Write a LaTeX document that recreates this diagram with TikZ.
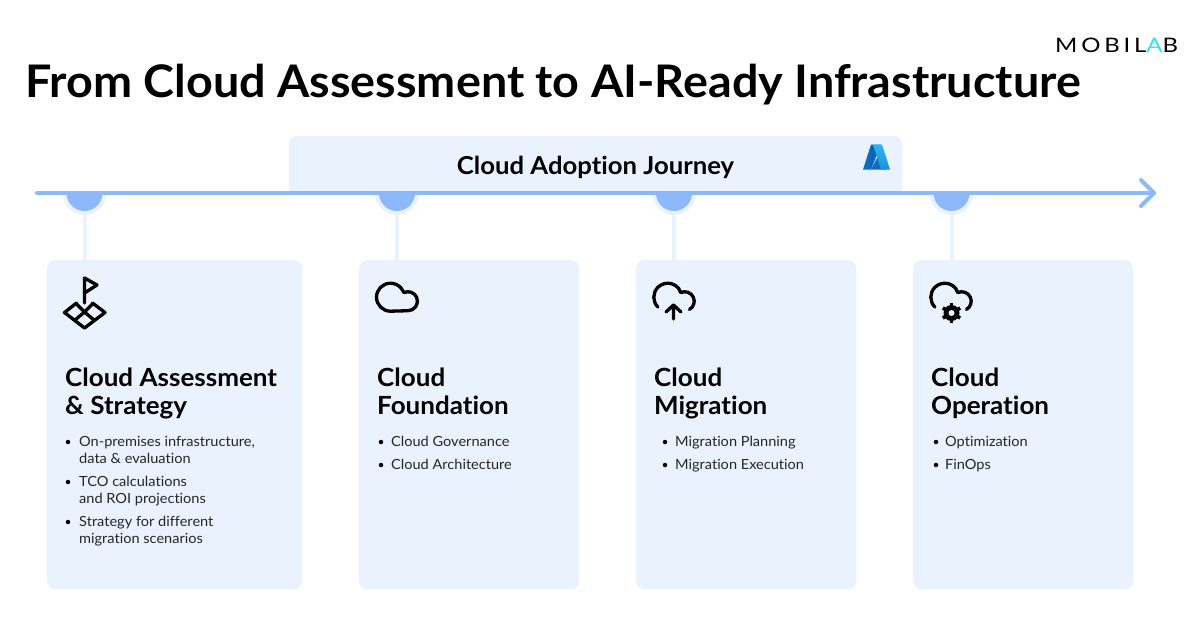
\documentclass[tikz,border=0pt]{standalone}
\usepackage{fontspec}
\setmainfont[FakeStretch=1.04,Ligatures=NoCommon]{Lato}
\newfontfamily\logofont[LetterSpace=19,FakeStretch=1.2]{Lato}
\usepackage{xcolor}
\usetikzlibrary{arrows, arrows.meta}
\definecolor{cardblue}{HTML}{EAF2FE}
\definecolor{lineblue}{HTML}{8DB8FB}
\definecolor{logocyan}{HTML}{2EE6E6}
\definecolor{azuredark}{HTML}{0B5DB0}
\definecolor{azuremid}{HTML}{0F6CC0}
\definecolor{azurelight}{HTML}{2CB8F0}
\definecolor{azurelow}{HTML}{1E8FDC}
\tikzset{
  card/.style={fill=cardblue,rounded corners=8pt,inner sep=0pt,anchor=north west},
  stem/.style={cardblue,line width=4pt},
  icon/.style={black,line width=3.3pt,line cap=round,line join=round},
  heading/.style={inner sep=0pt,anchor=base west,align=left,font=\fontsize{25}{28}\selectfont\bfseries},
  item/.style={inner sep=0pt,anchor=base west,align=left,font=\fontsize{14}{17}\selectfont,text=black!85},
  itemdot/.style={circle,fill=black,inner sep=0pt,minimum size=4.5pt}
}
\begin{document}
\begin{tikzpicture}[x=1pt,y=-1pt]
\useasboundingbox (0,0) rectangle (1200,638);
\fill[white] (0,0) rectangle (1200,638);
\node[inner sep=0pt,anchor=base west,font=\fontsize{44.9}{50}\selectfont\bfseries] (title) at (25,97) {From Cloud Assessment to AI-Ready Infrastructure};
\node[inner sep=0pt,anchor=base west,font=\fontsize{20}{22}\selectfont\logofont] (logo) at (1055,52) {MOBIL\textcolor{logocyan}{A}B};
% top band
\fill[cardblue] (289,193) -- (289,144) arc[start angle=180,end angle=90,radius=8pt] -- (894,136) arc[start angle=90,end angle=0,radius=8pt] -- (902,193) -- cycle;
\node[inner sep=0pt,anchor=base,font=\fontsize{24.7}{28}\selectfont\bfseries] (band) at (595.5,174) {Cloud Adoption Journey};
% azure logo
\shade[left color=azuremid,right color=azuredark] (871,144.5) -- (881,144.5) -- (871,169.5) -- (863,169.5) -- cycle;
\fill[azuremid] (878,156) -- (871,169.5) -- (886,169.5) -- cycle;
\shade[top color=azurelight,bottom color=azurelow] (873,144.5) -- (882,144.5) -- (890,169.5) -- (881,169.5) -- cycle;
% cards
\node[card,minimum width=255pt,minimum height=329pt] (card1) at (47,260) {};
\node[card,minimum width=220pt,minimum height=329pt] (card2) at (359,260) {};
\node[card,minimum width=220pt,minimum height=329pt] (card3) at (636,260) {};
\node[card,minimum width=220pt,minimum height=329pt] (card4) at (913,260) {};
% dots on the line
\coordinate (dot1) at (84.5,193);
\coordinate (dot2) at (397,193);
\coordinate (dot3) at (674,193);
\coordinate (dot4) at (951.5,193);
\foreach \n in {1,2,3,4}{
  \draw[stem] (dot\n) -- (dot\n |- card\n.north);
  \fill[cardblue] (dot\n) ++(-22,0) arc[start angle=180,end angle=360,radius=22pt] -- cycle;
  \fill[lineblue] (dot\n) ++(-18,0) arc[start angle=180,end angle=360,radius=18pt] -- cycle;
}
\coordinate (linestart) at (37,193);
\coordinate (lineend) at (1154,193);
\draw[lineblue,line width=4pt,line cap=round] (linestart) -- (lineend);
\draw[lineblue,line width=4pt,line cap=round,line join=round] (1141,180) -- (lineend) -- (1141,206);
% flag icon
\draw[icon] (84.5,303) -- (84.5,278) -- (97,285) -- (84.5,293);
\draw[icon] (76.5,303) -- (64.5,312.5) -- (84.5,328) -- (105,312.5) -- (92.5,303);
\draw[icon] (76.5,304) -- (84.5,312) -- (92.5,304) (75,320) -- (84.5,312) -- (94,320);
% cloud icon
\draw[icon] (390.5,311.2) arc[start angle=270,end angle=40,radius=14pt] -- (404,292.6) arc[start angle=115,end angle=-90,radius=9.5pt] -- cycle;
% upload icon
\draw[icon] (657.9,307.1) arc[start angle=225,end angle=40,radius=14pt] -- (680.7,292.6) arc[start angle=115,end angle=-60,radius=9.5pt];
\draw[icon] (673.5,319) -- (673.5,305) (666,312) -- (673.5,305) -- (681,312);
% gear cloud icon
\draw[icon] (934.9,307.1) arc[start angle=225,end angle=40,radius=14pt] -- (957.7,292.6) arc[start angle=115,end angle=-60,radius=9.5pt];
\foreach \a in {30,90,...,330}
  \draw[black,line width=3.6pt] (951.5,313) -- ++(\a:10pt);
\fill[black] (951.5,313) circle (8pt);
\fill[cardblue] (951.5,313) circle (3pt);
% card texts
\node[heading] (head1) at (65,414) {Cloud Assessment\\\& Strategy};
\node[heading] (head2) at (377,414) {Cloud\\Foundation};
\node[heading] (head3) at (654,414) {Cloud\\Migration};
\node[heading] (head4) at (931,414) {Cloud\\Operation};
\node[item] (item11) at (79,463.5) {On-premises infrastructure,\\data \& evaluation};
\node[item] (item12) at (79,503.5) {TCO calculations\\and ROI projections};
\node[item] (item13) at (79,543.5) {Strategy for different\\migration scenarios};
\node[item] (item21) at (391,446.5) {Cloud Governance};
\node[item] (item22) at (391,469.5) {Cloud Architecture};
\node[item] (item31) at (675,446.5) {Migration Planning};
\node[item] (item32) at (675,469.5) {Migration Execution};
\node[item] (item41) at (945,446.5) {Optimization};
\node[item] (item42) at (945,469.5) {FinOps};
\foreach \x/\y/\nm in {68/442/a,68/482/b,68/522/c,381/442/d,381/465/e,665/442/f,665/465/g,936/442/h,936/465/i}
  \node[itemdot] (bullet\nm) at (\x,\y) {};
\end{tikzpicture}
\end{document}
